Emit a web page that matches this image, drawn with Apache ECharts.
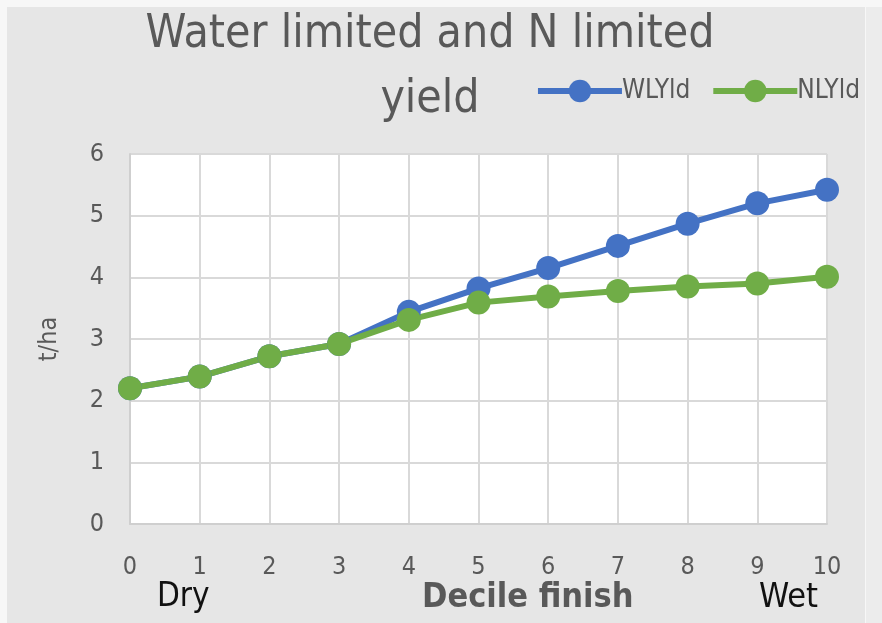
<!DOCTYPE html>
<html lang="en">
<head>
    <meta charset="UTF-8">
    <script src="https://cdn.jsdelivr.net/npm/echarts@6/dist/echarts.min.js"></script>
    <title>Water limited and N limited yield</title>
    <style>
        html, body { margin: 0; padding: 0; background: #f7f7f7; }
        #yield-chart { position: absolute; left: 7px; top: 7px; width: 858px; height: 616px; background: #e6e6e6; }
        #strip { position: absolute; left: 866px; top: 7px; width: 16px; height: 616px; background: #ececec; }
    </style>
</head>
<body>
    <div id="yield-chart"></div>
    <div id="strip"></div>
</body>
<script type="text/javascript">
    var deciles = ["0", "1", "2", "3", "4", "5", "6", "7", "8", "9", "10"];
    var wlYld = [2.20, 2.39, 2.72, 2.92, 3.44, 3.82, 4.15, 4.51, 4.87, 5.20, 5.42];
    var nlYld = [2.20, 2.39, 2.72, 2.92, 3.31, 3.59, 3.69, 3.78, 3.85, 3.90, 4.01];
    var yTicks = [0, 6, 1]; // min, max, interval

    var font = '"DejaVu Sans Condensed", "Liberation Sans Narrow", "Open Sans", sans-serif';
    var chart = echarts.init(document.getElementById('yield-chart'));

    chart.setOption({
        animation: false,
        textStyle: { fontFamily: font },
        title: {
            text: 'Water limited and N limited\nyield',
            left: 418,
            top: -9,
            textAlign: 'center',
            textStyle: {
                fontSize: 46,
                fontWeight: 'normal',
                color: '#595959',
                lineHeight: 65,
                fontFamily: font
            }
        },
        legend: {
            right: 0,
            top: 66,
            itemWidth: 84,
            itemHeight: 28,
            itemGap: 20,
            lineStyle: { width: 6 },
            textStyle: { fontSize: 26, color: '#595959', padding: [0, 0, 0, -5] },
            data: ['WLYld', 'NLYld']
        },
        grid: { left: 123, top: 147, right: 38, bottom: 99, backgroundColor: '#ffffff', show: true, borderWidth: 0 },
        xAxis: {
            type: 'category',
            data: deciles,
            boundaryGap: false,
            axisLine: { lineStyle: { color: '#cfcfcf', width: 2 } },
            axisTick: { show: false },
            splitLine: { show: true, lineStyle: { color: '#d9d9d9', width: 2 } },
            axisLabel: { fontSize: 25, color: '#595959', margin: 31 }
        },
        yAxis: {
            type: 'value',
            min: yTicks[0],
            max: yTicks[1],
            interval: yTicks[2],
            name: 't/ha',
            nameLocation: 'middle',
            nameGap: 68,
            nameTextStyle: { fontSize: 25, color: '#595959' },
            axisLine: { show: true, lineStyle: { color: '#cfcfcf', width: 2 } },
            splitLine: { lineStyle: { color: '#d9d9d9', width: 2 } },
            axisLabel: { fontSize: 25, color: '#595959', margin: 26 }
        },
        graphic: [
            { type: 'text', left: 150, top: 574, style: { text: 'Dry', fill: '#111111', font: '33px ' + font } },
            { type: 'text', left: 415, top: 574, style: { text: 'Decile finish', fill: '#595959', font: 'bold 34px ' + font } },
            { type: 'text', left: 752, top: 574, style: { text: 'Wet', fill: '#111111', font: '34px ' + font } }
        ],
        series: [
            {
                name: 'WLYld',
                type: 'line',
                data: wlYld,
                symbol: 'circle',
                symbolSize: 24,
                color: '#4472c4',
                lineStyle: { width: 6 }
            },
            {
                name: 'NLYld',
                type: 'line',
                data: nlYld,
                symbol: 'circle',
                symbolSize: 24,
                color: '#70ad47',
                lineStyle: { width: 6 }
            }
        ]
    });
</script>
</html>
